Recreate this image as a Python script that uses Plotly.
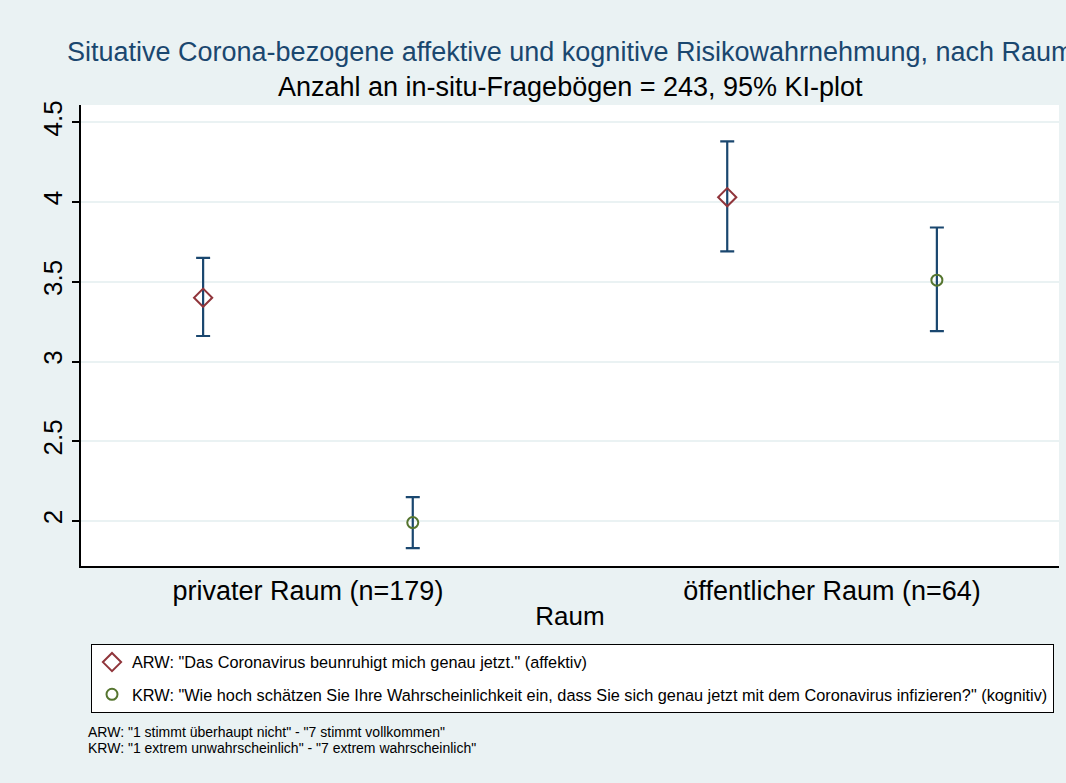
import plotly.graph_objects as go

# Raum-Kategorien (x-Achse)
raum = ["privater Raum (n=179)", "öffentlicher Raum (n=64)"]

# Mittelwerte und 95%-Konfidenzgrenzen je Raum
arw_mean = [3.40, 4.03]
arw_lo = [3.16, 3.69]
arw_hi = [3.65, 4.38]

krw_mean = [1.99, 3.51]
krw_lo = [1.83, 3.19]
krw_hi = [2.15, 3.84]

y_ticks = [2, 2.5, 3, 3.5, 4, 4.5]
y_ticktext = ["2", "2.5", "3", "3.5", "4", "4.5"]

arw_label = 'ARW: "Das Coronavirus beunruhigt mich genau jetzt." (affektiv)'
krw_label = ('KRW: "Wie hoch schätzen Sie Ihre Wahrscheinlichkeit ein, dass Sie sich '
             'genau jetzt mit dem Coronavirus infizieren?" (kognitiv)')

notes = ['ARW: "1 stimmt überhaupt nicht" - "7 stimmt vollkommen"',
         'KRW: "1 extrem unwahrscheinlich" - "7 extrem wahrscheinlich"']

NAVY = "#1a476f"
MAROON = "#90353b"
GREEN = "#55752f"
BG = "#eaf2f3"
FONT = "Liberation Sans, Arial, sans-serif"

W, H = 1066, 783
ML, MR, MT, MB = 81, 7, 105, 217
PW, PH = W - ML - MR, H - MT - MB


def px_x(px):
    """Pixel column -> paper x."""
    return (px - ML) / PW


def px_y(py):
    """Pixel row -> paper y."""
    return (H - MB - py) / PH


pos = [1, 2]
shift = 0.2


def ci_trace(mean, lo, hi, offset, name, symbol, color, size, group):
    return go.Scatter(
        x=[p + offset for p in pos],
        y=mean,
        mode="markers",
        name=name,
        legendgroup=group,
        marker=dict(symbol=symbol, size=size, color=color,
                    line=dict(color=color, width=2)),
        error_y=dict(type="data", symmetric=False,
                     array=[h - m for h, m in zip(hi, mean)],
                     arrayminus=[m - l for m, l in zip(mean, lo)],
                     color=NAVY, thickness=2.2, width=7),
    )


fig = go.Figure()
fig.add_trace(ci_trace(arw_mean, arw_lo, arw_hi, -shift, arw_label,
                       "diamond-open", MAROON, 14, "arw"))
fig.add_trace(ci_trace(krw_mean, krw_lo, krw_hi, shift, krw_label,
                       "circle-open", GREEN, 11, "krw"))

annotations = [
    dict(text="Situative Corona-bezogene affektive und kognitive Risikowahrnehmung, nach Raum",
         xref="paper", yref="paper", x=px_x(570), y=px_y(52),
         xanchor="center", yanchor="middle", showarrow=False,
         font=dict(size=27, color=NAVY, family=FONT)),
    dict(text="Anzahl an in-situ-Fragebögen = 243, 95% KI-plot",
         xref="paper", yref="paper", x=px_x(570), y=px_y(87),
         xanchor="center", yanchor="middle", showarrow=False,
         font=dict(size=27, color="black", family=FONT)),
]
for i, line in enumerate(notes):
    annotations.append(dict(
        text=line, xref="paper", yref="paper",
        x=px_x(86), y=px_y(732 + 16 * i),
        xanchor="left", yanchor="middle", align="left", showarrow=False,
        font=dict(size=14, color="black", family=FONT)))

fig.update_layout(
    width=W,
    height=H,
    paper_bgcolor=BG,
    plot_bgcolor="white",
    font=dict(family=FONT, color="black"),
    margin=dict(l=ML, r=MR, t=MT, b=MB, autoexpand=False),
    showlegend=True,
    legend=dict(
        x=px_x(91), y=px_y(644),
        xanchor="left", yanchor="top",
        bgcolor="white", bordercolor="black", borderwidth=1,
        font=dict(size=16.3, family=FONT, color="black"),
        traceorder="grouped", tracegroupgap=8,
        itemwidth=30,
    ),
    xaxis=dict(
        range=[0.567, 2.433],
        tickmode="array", tickvals=pos, ticktext=raum,
        ticks="", showgrid=False, zeroline=False,
        showline=True, linecolor="black", linewidth=1.5,
        tickfont=dict(size=27),
        title=dict(text="Raum", font=dict(size=26), standoff=2),
    ),
    yaxis=dict(
        range=[1.718, 4.608],
        tickmode="array", tickvals=y_ticks, ticktext=y_ticktext,
        tickangle=-90, tickfont=dict(size=26),
        ticks="outside", ticklen=7, tickcolor="black", tickwidth=1.5,
        showgrid=True, gridcolor=BG, gridwidth=2,
        zeroline=False,
        showline=True, linecolor="black", linewidth=1.5,
    ),
    annotations=annotations,
)

fig.write_html("out.html")
